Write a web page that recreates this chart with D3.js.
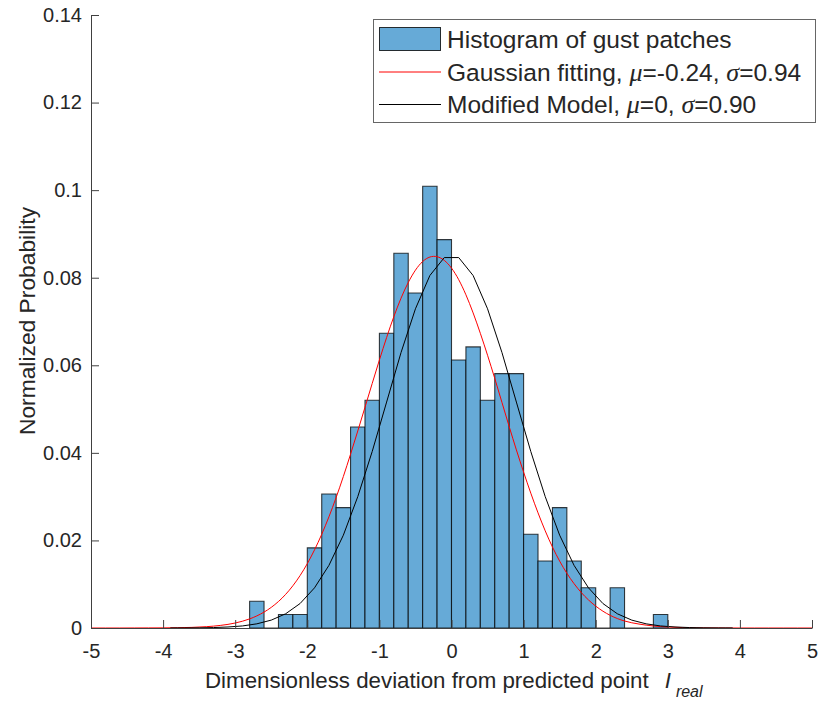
<!DOCTYPE html>
<html>
<head>
<meta charset="utf-8">
<script src="https://cdn.jsdelivr.net/npm/d3@7"></script>
<style>
  body { margin: 0; background: #fff; }
  svg { display: block; }
  text { font-family: "Liberation Sans", Arial, sans-serif; fill: #262626; }
</style>
</head>
<body>
<svg id="chart" width="822" height="703"></svg>
<script>
// Histogram bins (left edges, width 0.2) and normalized probabilities
const binEdges = [-2.8, -2.6, -2.4, -2.2, -2.0, -1.8, -1.6, -1.4, -1.2, -1.0,
                  -0.8, -0.6, -0.4, -0.2, 0.0, 0.2, 0.4, 0.6, 0.8, 1.0,
                  1.2, 1.4, 1.6, 1.8, 2.0, 2.2, 2.4, 2.6, 2.8];
const binWidth = 0.2;
const binProb = [0.0061, 0, 0.0031, 0.0031, 0.0183, 0.0306, 0.0275, 0.0459, 0.0520, 0.0673,
                 0.0856, 0.0765, 0.1009, 0.0887, 0.0612, 0.0642, 0.0520, 0.0581, 0.0581, 0.0214,
                 0.0153, 0.0275, 0.0153, 0.0092, 0, 0.0092, 0, 0, 0.0031];

// Gaussian fitting curve (mu = -0.24, sigma = 0.94)
const fitX = [-5.0, -4.8, -4.6, -4.4, -4.2, -4.0, -3.8, -3.6, -3.4, -3.2,
              -3.0, -2.8, -2.6, -2.4, -2.2, -2.0, -1.8, -1.6, -1.4, -1.2,
              -1.0, -0.8, -0.6, -0.4, -0.2, 0.0, 0.2, 0.4, 0.6, 0.8,
              1.0, 1.2, 1.4, 1.6, 1.8, 2.0, 2.2, 2.4, 2.6, 2.8,
              3.0, 3.2, 3.4, 3.6, 3.8, 4.0, 4.2, 4.4, 4.6, 4.8, 5.0];
const fitY = [0, 0, 0, 0.00001, 0.00002, 0.00003, 0.00007, 0.00014, 0.0003, 0.0006,
              0.00114, 0.00208, 0.00363, 0.00605, 0.00965, 0.0147, 0.0214, 0.0298, 0.0397, 0.0504,
              0.0612, 0.0711, 0.0789, 0.0837, 0.0848, 0.0822, 0.0761, 0.0673, 0.0570, 0.0460,
              0.0356, 0.0263, 0.0185, 0.0125, 0.0081, 0.0050, 0.0029, 0.0016, 0.0009, 0.00046,
              0.00022, 0.0001, 0.00004, 0.00002, 0.00001, 0, 0, 0, 0, 0, 0];

// Modified model curve (mu = 0, sigma = 0.90), evaluated at bin centres
const modelX = [-3.9, -3.7, -3.5, -3.3, -3.1, -2.9, -2.7, -2.5, -2.3, -2.1,
                -1.9, -1.7, -1.5, -1.3, -1.1, -0.9, -0.7, -0.5, -0.3, -0.1,
                0.1, 0.3, 0.5, 0.7, 0.9, 1.1, 1.3, 1.5, 1.7, 1.9,
                2.1, 2.3, 2.5, 2.7, 2.9, 3.1, 3.3, 3.5, 3.7, 3.9];
const modelY = [0.00001, 0.00002, 0.00004, 0.0001, 0.00023, 0.00047, 0.00095, 0.0018, 0.00325, 0.00559,
                0.00917, 0.0143, 0.0212, 0.0300, 0.0403, 0.0516, 0.0629, 0.0729, 0.0805, 0.0846,
                0.0846, 0.0805, 0.0729, 0.0629, 0.0516, 0.0403, 0.0300, 0.0212, 0.0143, 0.00917,
                0.00559, 0.00325, 0.0018, 0.00095, 0.00047, 0.00023, 0.0001, 0.00004, 0.00002, 0.00001];

// Axis ticks
const xTicks = [-5, -4, -3, -2, -1, 0, 1, 2, 3, 4, 5];
const xTickLabels = ["-5", "-4", "-3", "-2", "-1", "0", "1", "2", "3", "4", "5"];
const yTicks = [0, 0.02, 0.04, 0.06, 0.08, 0.1, 0.12, 0.14];
const yTickLabels = ["0", "0.02", "0.04", "0.06", "0.08", "0.1", "0.12", "0.14"];

const svg = d3.select("#chart");
const plot = { left: 91, right: 812, top: 15, bottom: 628 };

const x = d3.scaleLinear().domain([-5, 5]).range([plot.left, plot.right]);
const y = d3.scaleLinear().domain([0, 0.14]).range([plot.bottom, plot.top]);

// Histogram bars (paths so empty bins still show their baseline edge)
svg.append("g")
  .selectAll("path")
  .data(binEdges.map((e, i) => ({ x0: e, x1: e + binWidth, v: binProb[i] })))
  .join("path")
  .attr("d", d => {
    const a = x(d.x0), b = x(d.x1), y0 = y(0), y1 = y(d.v);
    return `M${a},${y0}V${y1}H${b}V${y0}Z`;
  })
  .attr("fill", "rgb(102,170,215)")
  .attr("stroke", "#000")
  .attr("stroke-opacity", 0.75)
  .attr("stroke-width", 1.1);

// Fitted Gaussian
svg.append("path")
  .datum(fitX.map((v, i) => [v, fitY[i]]))
  .attr("fill", "none")
  .attr("stroke", "#ff0000")
  .attr("stroke-width", 1)
  .attr("d", d3.line().x(d => x(d[0])).y(d => y(d[1])).curve(d3.curveNatural));

// Modified model
svg.append("path")
  .datum(modelX.map((v, i) => [v, modelY[i]]))
  .attr("fill", "none")
  .attr("stroke", "#000")
  .attr("stroke-width", 1)
  .attr("d", d3.line().x(d => x(d[0])).y(d => y(d[1])));

// Axes (ticks pointing inward, no box)
const axisColor = "#404040";
const gx = svg.append("g")
  .attr("transform", `translate(0,${plot.bottom})`)
  .call(d3.axisBottom(x).tickValues(xTicks)
    .tickFormat((d, i) => xTickLabels[i])
    .tickSizeInner(-8).tickSizeOuter(0).tickPadding(16));
const gy = svg.append("g")
  .attr("transform", `translate(${plot.left},0)`)
  .call(d3.axisLeft(y).tickValues(yTicks)
    .tickFormat((d, i) => yTickLabels[i])
    .tickSizeInner(-8).tickSizeOuter(0).tickPadding(9));

[gx, gy].forEach(g => {
  g.select(".domain").attr("stroke", axisColor);
  g.selectAll(".tick line").attr("stroke", axisColor);
  g.selectAll(".tick text")
    .attr("font-size", 20)
    .attr("font-family", "Liberation Sans, Arial, sans-serif")
    .attr("fill", "#262626");
});

// Axis labels
const xl = svg.append("text")
  .attr("x", 205).attr("y", 688)
  .attr("font-size", 22.3);
xl.append("tspan").text("Dimensionless deviation from predicted point");
xl.append("tspan").attr("font-style", "italic").attr("dx", 16).text("I");
xl.append("tspan").attr("font-style", "italic").attr("font-size", 16)
  .attr("dx", 5).attr("dy", 9).text("real");

svg.append("text")
  .attr("transform", "translate(35,321) rotate(-90)")
  .attr("text-anchor", "middle")
  .attr("font-size", 22.8)
  .text("Normalized Probability");

// Legend
const lg = svg.append("g");
lg.append("rect")
  .attr("x", 373.5).attr("y", 19.5).attr("width", 442).attr("height", 103)
  .attr("fill", "#fff").attr("stroke", "#666").attr("stroke-width", 1);

lg.append("rect")
  .attr("x", 379.5).attr("y", 27.5).attr("width", 61).attr("height", 23)
  .attr("fill", "rgb(102,170,215)").attr("stroke", "#000").attr("stroke-opacity", 0.8);

lg.append("line")
  .attr("x1", 379).attr("x2", 441).attr("y1", 72).attr("y2", 72)
  .attr("stroke", "#ff0000").attr("stroke-width", 1);
lg.append("line")
  .attr("x1", 379).attr("x2", 441).attr("y1", 104.5).attr("y2", 104.5)
  .attr("stroke", "#000").attr("stroke-width", 1);

const legendFont = 24.5;
const greek = sel => sel.attr("font-family", "Liberation Serif, serif").attr("font-style", "italic").attr("font-size", 26);
lg.append("text").attr("x", 447).attr("y", 48).attr("font-size", legendFont)
  .text("Histogram of gust patches");

const t2 = lg.append("text").attr("x", 447).attr("y", 80.5).attr("font-size", legendFont);
t2.append("tspan").text("Gaussian fitting, ");
t2.append("tspan").call(greek).text("μ");
t2.append("tspan").text("=-0.24, ");
t2.append("tspan").call(greek).text("σ");
t2.append("tspan").text("=0.94");

const t3 = lg.append("text").attr("x", 447).attr("y", 113).attr("font-size", legendFont);
t3.append("tspan").text("Modified Model, ");
t3.append("tspan").call(greek).text("μ");
t3.append("tspan").text("=0, ");
t3.append("tspan").call(greek).text("σ");
t3.append("tspan").text("=0.90");
</script>
</body>
</html>
